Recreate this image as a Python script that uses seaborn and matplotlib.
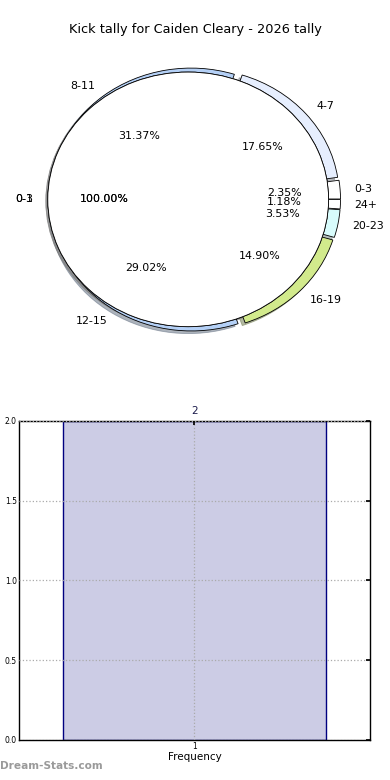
import matplotlib
matplotlib.use("Agg")
import matplotlib.pyplot as plt
import seaborn as sns
import pandas as pd

sns.set_theme(style="white")
plt.rcParams["font.family"] = ["DejaVu Sans"]
plt.rcParams["text.color"] = "black"

# ── data ──────────────────────────────────────────────────────────────────────
TITLE = "Kick tally for Caiden Cleary - 2026 tally"
ring_labels = ["0-3", "4-7", "8-11", "12-15", "16-19", "20-23", "24+"]
ring_counts = [6, 45, 80, 74, 38, 9, 3]
ring_colors = ["#ffffff", "#e6eefe", "#b4d0f6", "#b4d0f6", "#d2ea8c", "#d8fcfc", "#ffffff"]
inner_labels = ["0-3", "0-1"]
inner_counts = [1]

bar_cats = ["1"]
bar_freq = [2]
y_ticks = [0.0, 0.5, 1.0, 1.5, 2.0]

fig = plt.figure(figsize=(3.9, 7.8), dpi=100)

# ── top : pie ring ────────────────────────────────────────────────────────────
ax1 = fig.add_axes([0.0487, 0.5404, 0.9, 0.408])
ax1.pie(ring_counts, labels=ring_labels, colors=ring_colors, startangle=0,
        explode=[0.04] * len(ring_counts), autopct="%1.2f%%",
        shadow=dict(ox=-0.015, oy=-0.015, shade=0.5),
        labeldistance=1.1, pctdistance=0.6,
        wedgeprops=dict(edgecolor="black", linewidth=0.6),
        textprops=dict(fontsize=7.9, color="black"))
for lab in inner_labels:
    ax1.pie(inner_counts, labels=[lab], colors=["white"], startangle=0,
            explode=[0.045], radius=1.0, autopct="%1.2f%%",
            shadow=dict(ox=-0.01, oy=-0.01, shade=0.5),
            labeldistance=1.1, pctdistance=0.6,
            wedgeprops=dict(edgecolor="black", linewidth=0.6),
            textprops=dict(fontsize=7.9, color="black"))
ax1.set_aspect("auto")
ax1.set_xlim(-1.25, 1.25)
ax1.set_ylim(-1.25, 1.25)
ax1.axis("off")
fig.text(0.5, 0.962, TITLE, ha="center", va="center", fontsize=9.3)

# ── bottom : frequency bar ────────────────────────────────────────────────────
ax2 = fig.add_axes([0.0487, 0.0513, 0.9, 0.409])
df = pd.DataFrame({"cat": bar_cats, "freq": bar_freq})
sns.barplot(data=df, x="cat", y="freq", width=0.75, ax=ax2,
            facecolor=(0, 0, 0.5, 0.2), edgecolor="navy", linewidth=1.0)
ax2.set_xlim(-0.5, 0.5)
ax2.set_ylim(0, 2)
ax2.set_yticks(y_ticks)
ax2.set_yticklabels([f"{v:.1f}" for v in y_ticks])
ax2.tick_params(labelsize=5.5, direction="in", length=3, right=True, top=True,
                pad=1.5, colors="black")
ax2.grid(True, linestyle=":", color="#aaaaaa", linewidth=0.9)
ax2.set_axisbelow(False)
for s in ax2.spines.values():
    s.set_edgecolor("black")
    s.set_linewidth(1.0)
ax2.set_xlabel("Frequency", fontsize=7.5, labelpad=1, color="black")
ax2.set_ylabel("")
for p, v in zip(ax2.patches, bar_freq):
    ax2.text(p.get_x() + p.get_width() / 2, v + 0.03, f"{v}", ha="center",
             va="bottom", fontsize=7.5, color="#1a1a4a")

fig.text(0.0, 0.012, "Dream-Stats.com", ha="left", va="bottom", fontsize=7.6,
         fontweight="bold", color="#9a9a9a")

fig.savefig("out.png", dpi=100)
